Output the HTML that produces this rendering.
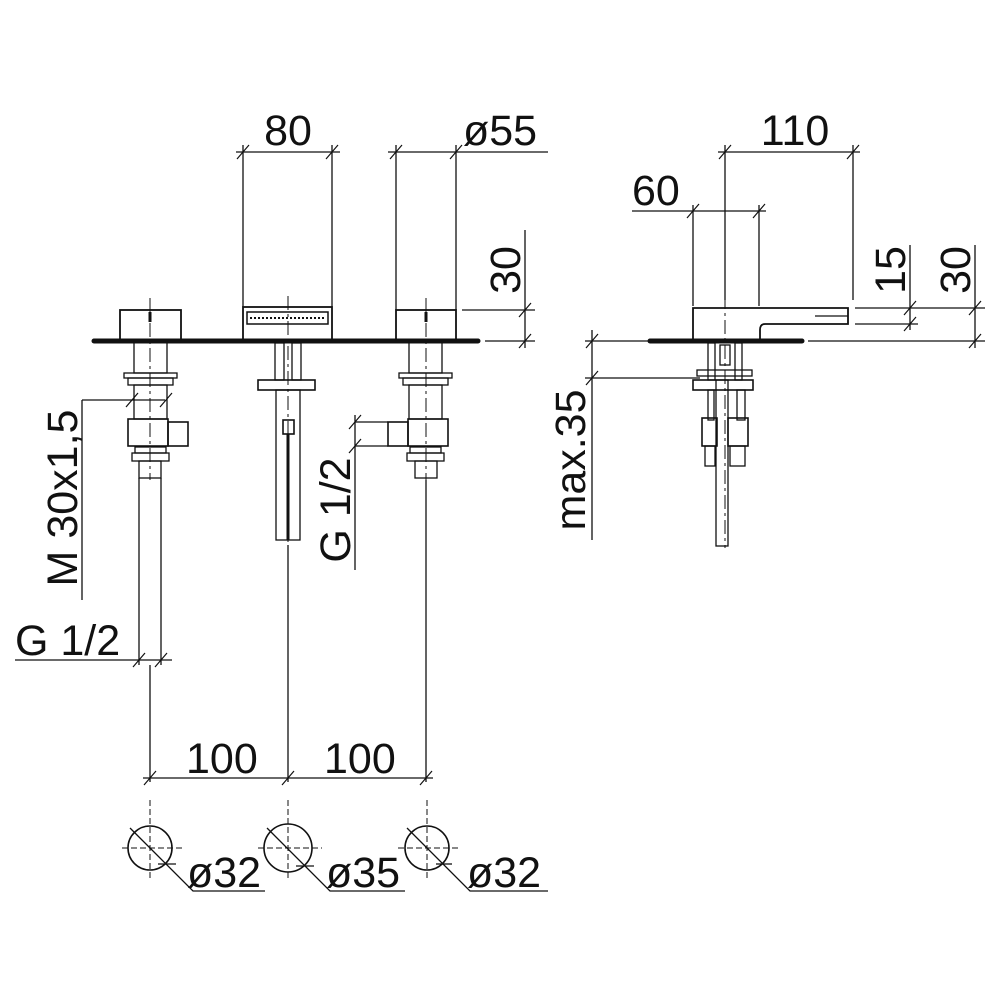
<!DOCTYPE html>
<html><head><meta charset="utf-8"><style>
html,body{margin:0;padding:0;background:#fff}
svg{display:block}
text{font-family:"Liberation Sans",sans-serif;font-size:43px;fill:#111}
</style></head><body>
<svg width="1000" height="1000" viewBox="0 0 1000 1000" xmlns="http://www.w3.org/2000/svg">
<g stroke="#111" fill="none" stroke-width="1.3">
<!-- center lines -->
<g stroke-dasharray="14,4,3,4" stroke-width="1">
<line x1="150" y1="298" x2="150" y2="480"/>
<line x1="288" y1="296" x2="288" y2="560"/>
<line x1="426" y1="298" x2="426" y2="480"/>
<line x1="725" y1="145" x2="725" y2="548"/>
</g>
<!-- plate left -->
<line x1="94" y1="341" x2="478" y2="341" stroke-width="5" stroke-linecap="round"/>
<!-- handles -->
<rect x="120" y="310" width="61" height="30" stroke-width="1.8"/>
<rect x="396" y="310" width="60" height="30" stroke-width="1.8"/>
<line x1="150" y1="312" x2="150" y2="322" stroke-width="3"/>
<line x1="426" y1="312" x2="426" y2="322" stroke-width="3"/>
<!-- spout block -->
<rect x="243" y="307" width="89" height="33" stroke-width="1.8"/>
<rect x="247" y="312" width="81" height="12" stroke-width="1.5"/>
<line x1="250" y1="318" x2="325" y2="318" stroke-dasharray="2,2" stroke-width="2"/>
<!-- left valve -->
<rect x="134" y="342" width="33" height="31"/>
<rect x="124" y="373" width="53" height="5"/>
<rect x="128" y="378" width="45" height="7"/>
<rect x="134" y="385" width="33" height="34"/>
<rect x="128" y="419" width="40" height="27" stroke-width="1.6"/>
<rect x="168" y="422" width="20" height="24" stroke-width="1.6"/>
<rect x="135" y="447" width="31" height="6"/>
<rect x="132" y="453" width="37" height="8"/>
<rect x="139" y="461" width="22" height="17"/>
<line x1="139" y1="478" x2="139" y2="665"/>
<line x1="161" y1="478" x2="161" y2="665"/>
<!-- right valve -->
<rect x="409" y="342" width="33" height="31"/>
<rect x="399" y="373" width="53" height="5"/>
<rect x="403" y="378" width="45" height="7"/>
<rect x="409" y="385" width="33" height="34"/>
<rect x="408" y="419" width="40" height="27" stroke-width="1.6"/>
<rect x="388" y="422" width="20" height="24" stroke-width="1.6"/>
<rect x="410" y="447" width="31" height="6"/>
<rect x="407" y="453" width="37" height="8"/>
<rect x="415" y="461" width="22" height="17"/>
<!-- spout below -->
<rect x="275" y="343" width="9" height="37"/>
<rect x="292" y="343" width="9" height="37"/>
<rect x="258" y="380" width="57" height="10" stroke-width="1.6"/>
<rect x="276" y="390" width="24" height="150"/>
<rect x="283" y="420" width="11" height="14" stroke-width="1.6"/>
<line x1="288" y1="434" x2="288" y2="540" stroke-width="3"/>
<!-- dimension 80 -->
<line x1="243" y1="145" x2="243" y2="307"/>
<line x1="332" y1="145" x2="332" y2="307"/>
<line x1="236" y1="152" x2="340" y2="152"/>
<!-- ø55 -->
<line x1="396" y1="145" x2="396" y2="310"/>
<line x1="456" y1="145" x2="456" y2="310"/>
<line x1="388" y1="152" x2="548" y2="152"/>
<!-- 30 left -->
<line x1="462" y1="310" x2="535" y2="310"/>
<line x1="485" y1="341" x2="535" y2="341"/>
<line x1="525" y1="230" x2="525" y2="348"/>
<!-- M30 -->
<line x1="82" y1="400" x2="165" y2="400"/>
<line x1="82" y1="400" x2="82" y2="600"/>
<!-- G1/2 left -->
<line x1="15" y1="660" x2="172" y2="660"/>
<!-- G1/2 right -->
<line x1="355" y1="422" x2="388" y2="422"/>
<line x1="355" y1="446" x2="388" y2="446"/>
<line x1="355" y1="415" x2="355" y2="570"/>
<!-- 100 100 -->
<line x1="150" y1="665" x2="150" y2="782"/>
<line x1="288" y1="545" x2="288" y2="782"/>
<line x1="426" y1="480" x2="426" y2="782"/>
<line x1="143" y1="778" x2="433" y2="778"/>
<!-- ticks -->
<g stroke-width="1.2">
<line x1="237" y1="159" x2="249" y2="145"/><line x1="326" y1="159" x2="338" y2="145"/>
<line x1="390" y1="159" x2="402" y2="145"/><line x1="450" y1="159" x2="462" y2="145"/>
<line x1="519" y1="317" x2="531" y2="303"/><line x1="519" y1="348" x2="531" y2="334"/>
<line x1="126" y1="407" x2="138" y2="393"/><line x1="160" y1="407" x2="172" y2="393"/>
<line x1="133" y1="667" x2="145" y2="653"/><line x1="155" y1="667" x2="167" y2="653"/>
<line x1="349" y1="429" x2="361" y2="415"/><line x1="349" y1="453" x2="361" y2="439"/>
<line x1="144" y1="785" x2="156" y2="771"/><line x1="282" y1="785" x2="294" y2="771"/><line x1="420" y1="785" x2="432" y2="771"/>
</g>
<!-- circles -->
<g stroke-dasharray="6,3" stroke-width="1">
<line x1="150" y1="800" x2="150" y2="880"/><line x1="122" y1="848" x2="182" y2="848"/>
<line x1="288" y1="800" x2="288" y2="880"/><line x1="258" y1="848" x2="322" y2="848"/>
<line x1="427" y1="800" x2="427" y2="880"/><line x1="398" y1="848" x2="458" y2="848"/>
</g>
<circle cx="150" cy="848" r="22" stroke-width="1.6"/>
<circle cx="288" cy="848" r="24" stroke-width="1.6"/>
<circle cx="427" cy="848" r="22" stroke-width="1.6"/>
<polyline points="130,828 193,891 265,891"/>
<polyline points="267,828 330,891 405,891"/>
<polyline points="407,828 470,891 548,891"/>
<line x1="158" y1="864" x2="176" y2="864"/><line x1="296" y1="866" x2="314" y2="866"/><line x1="436" y1="864" x2="452" y2="864"/>
<!-- right view -->
<line x1="650" y1="341" x2="802" y2="341" stroke-width="5" stroke-linecap="round"/>
<path d="M693,340 V308 H848 V324 H765 Q760,324 760,330 V340" stroke-width="1.8"/>
<line x1="815" y1="316" x2="848" y2="316"/>
<rect x="708" y="343" width="7" height="37"/>
<rect x="735" y="343" width="7" height="37"/>
<rect x="720" y="345" width="10" height="20"/>
<rect x="697" y="370" width="55" height="6"/>
<rect x="693" y="380" width="60" height="10" stroke-width="1.6"/>
<rect x="708" y="390" width="6" height="30"/>
<rect x="737" y="390" width="8" height="30"/>
<rect x="702" y="418" width="15" height="28" stroke-width="1.6"/>
<rect x="728" y="418" width="20" height="28" stroke-width="1.6"/>
<rect x="705" y="446" width="10" height="20"/>
<rect x="730" y="446" width="15" height="20"/>
<rect x="716" y="380" width="12" height="166"/>
<!-- 110 -->
<line x1="725" y1="145" x2="725" y2="300"/>
<line x1="853" y1="145" x2="853" y2="300"/>
<line x1="718" y1="152" x2="860" y2="152"/>
<!-- 60 -->
<line x1="693" y1="205" x2="693" y2="306"/>
<line x1="759" y1="205" x2="759" y2="306"/>
<line x1="632" y1="211" x2="766" y2="211"/>
<!-- 15 / 30 -->
<line x1="855" y1="308" x2="985" y2="308"/>
<line x1="855" y1="324" x2="918" y2="324"/>
<line x1="808" y1="341" x2="985" y2="341"/>
<line x1="910" y1="245" x2="910" y2="330"/>
<line x1="975" y1="245" x2="975" y2="348"/>
<!-- max35 -->
<line x1="585" y1="341" x2="648" y2="341"/>
<line x1="585" y1="378" x2="700" y2="378"/>
<line x1="592" y1="330" x2="592" y2="540"/>
<g stroke-width="1.2">
<line x1="719" y1="159" x2="731" y2="145"/><line x1="847" y1="159" x2="859" y2="145"/>
<line x1="687" y1="218" x2="699" y2="204"/><line x1="753" y1="218" x2="765" y2="204"/>
<line x1="904" y1="315" x2="916" y2="301"/><line x1="904" y1="331" x2="916" y2="317"/>
<line x1="969" y1="315" x2="981" y2="301"/><line x1="969" y1="348" x2="981" y2="334"/>
<line x1="586" y1="348" x2="598" y2="334"/><line x1="586" y1="385" x2="598" y2="371"/>
</g>
</g>
<!-- texts -->
<text x="288" y="145" text-anchor="middle">80</text>
<text x="463" y="145">ø55</text>
<text x="795" y="145" text-anchor="middle">110</text>
<text x="632" y="205">60</text>
<text x="186" y="773">100</text>
<text x="324" y="773">100</text>
<text x="187" y="887">ø32</text>
<text x="326" y="887">ø35</text>
<text x="467" y="887">ø32</text>
<text x="15" y="655">G 1/2</text>
<text transform="translate(520,270) rotate(-90)" text-anchor="middle">30</text>
<text transform="translate(905,270) rotate(-90)" text-anchor="middle">15</text>
<text transform="translate(970,270) rotate(-90)" text-anchor="middle">30</text>
<text transform="translate(77,498) rotate(-90)" text-anchor="middle">M 30x1,5</text>
<text transform="translate(350,510) rotate(-90)" text-anchor="middle">G 1/2</text>
<text transform="translate(585,460) rotate(-90)" text-anchor="middle">max.35</text>
</svg>
</body></html>
